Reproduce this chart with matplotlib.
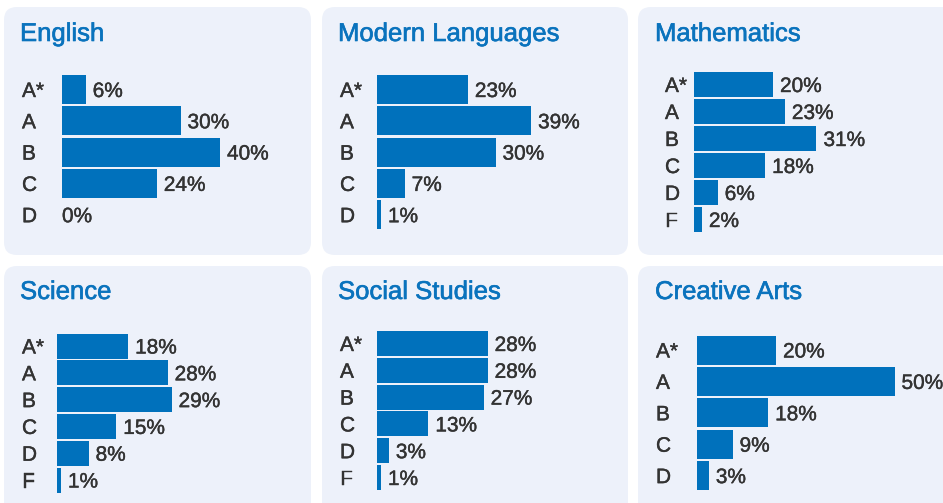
import matplotlib.pyplot as plt
import matplotlib.patheffects as pe
from matplotlib.patches import FancyBboxPatch

plt.rcParams['font.family'] = ['Liberation Sans', 'DejaVu Sans']

# Data
subjects = ["English", "Modern Languages", "Mathematics",
            "Science", "Social Studies", "Creative Arts"]
english_grades = ["A*", "A", "B", "C", "D"]
english_values = [6, 30, 40, 24, 0]
languages_grades = ["A*", "A", "B", "C", "D"]
languages_values = [23, 39, 30, 7, 1]
maths_grades = ["A*", "A", "B", "C", "D", "F"]
maths_values = [20, 23, 31, 18, 6, 2]
science_grades = ["A*", "A", "B", "C", "D", "F"]
science_values = [18, 28, 29, 15, 8, 1]
social_grades = ["A*", "A", "B", "C", "D", "F"]
social_values = [28, 28, 27, 13, 3, 1]
arts_grades = ["A*", "A", "B", "C", "D"]
arts_values = [20, 50, 18, 9, 3]

grades = [english_grades, languages_grades, maths_grades,
          science_grades, social_grades, arts_grades]
values = [english_values, languages_values, maths_values,
          science_values, social_values, arts_values]

# Layout in pixels (from top-left): box, title, label x, bar left, first row centre, row step, bar height
layout = [
    dict(box=(4, 7, 307, 248), title=(20, 41), lab=22, bar=62, c0=89.5, step=31.3, bh=29),
    dict(box=(322, 7, 306, 248), title=(338, 41), lab=340, bar=377, c0=89.5, step=31.3, bh=29),
    dict(box=(638, 7, 330, 248), title=(655, 41), lab=665, bar=694, c0=84.5, step=27, bh=25),
    dict(box=(4, 266, 307, 260), title=(20, 299), lab=22, bar=57, c0=346, step=26.8, bh=25),
    dict(box=(322, 266, 306, 260), title=(338, 299), lab=340, bar=377, c0=343.5, step=26.8, bh=25),
    dict(box=(638, 266, 330, 260), title=(655, 299), lab=656, bar=697, c0=350, step=31.4, bh=29),
]

W, H = 943, 503
PX_PER_PCT = 3.95
bar_color = "#0071bc"
title_color = "#0a73bd"
text_color = "#333333"
box_color = "#edf1fa"

fig = plt.figure(figsize=(W / 100, H / 100), dpi=100)
fig.patch.set_facecolor("white")

bg = fig.add_axes([0, 0, 1, 1])
bg.set_xlim(0, W)
bg.set_ylim(H, 0)
bg.axis("off")

# slight stroke to mimic the medium-weight font of the original
title_fx = [pe.withStroke(linewidth=0.45, foreground=title_color)]
label_fx = [pe.withStroke(linewidth=0.3, foreground=text_color)]

for subject, g, v, lay in zip(subjects, grades, values, layout):
    x0, y0, bw, bhgt = lay["box"]
    bg.add_patch(FancyBboxPatch((x0, y0), bw, bhgt,
                                boxstyle="round,pad=0,rounding_size=13",
                                facecolor=box_color, edgecolor="none"))
    bg.text(lay["title"][0], lay["title"][1], subject, color=title_color,
            fontsize=18.5, ha="left", va="baseline", path_effects=title_fx)

    n = len(g)
    step = lay["step"]
    top = lay["c0"] - step / 2
    ax_w = 260
    ax = fig.add_axes([lay["bar"] / W, 1 - (top + n * step) / H,
                       ax_w / W, n * step / H])
    ax.set_xlim(0, ax_w / PX_PER_PCT)
    ax.set_ylim(n - 0.5, -0.5)
    ax.axis("off")
    ax.barh(range(n), v, height=lay["bh"] / step, color=bar_color)

    lab_off = (lay["lab"] - lay["bar"]) / PX_PER_PCT
    gap = 7 / PX_PER_PCT
    for i, (gr, val) in enumerate(zip(g, v)):
        ax.text(lab_off, i, gr, color=text_color, fontsize=15,
                ha="left", va="center_baseline", clip_on=False,
                path_effects=label_fx)
        ax.text(val + (gap if val > 0 else 0), i, f"{val}%", color=text_color,
                fontsize=15, ha="left", va="center_baseline", clip_on=False,
                path_effects=label_fx)

fig.savefig("out.png", dpi=100)
